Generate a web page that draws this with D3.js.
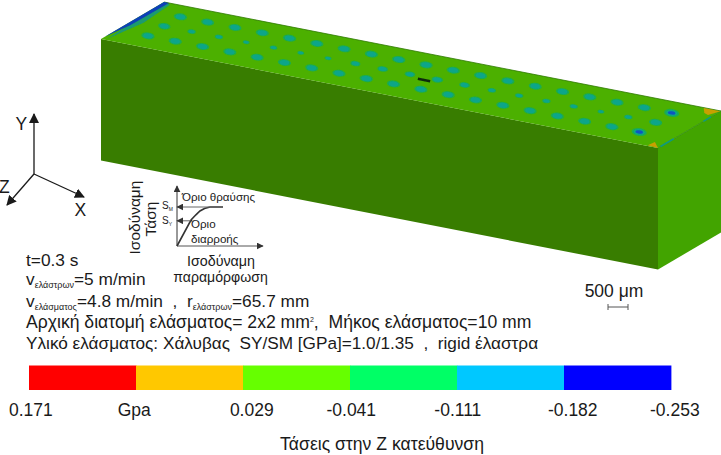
<!DOCTYPE html>
<html><head><meta charset="utf-8">
<script src="https://d3js.org/d3.v7.min.js"></script>
<style>html,body{margin:0;padding:0;background:#fff}svg{display:block;font-family:"Liberation Sans",Arial,sans-serif;fill:#1a1a1a}</style>
</head><body><svg id="c" width="721" height="455"></svg>
<script>
// Block dimensions (mm)
const blockLength = 10, blockWidth = 2, blockHeight = 2;
// Spot positions along the length (mm) and across the width (mm)
const spotLengths = [0.56,1.05,1.54,2.03,2.52,3.01,3.50,3.99,4.48,4.97,5.46,5.95,6.44,6.93,7.42,7.91,8.40,8.89,9.38];
const spotRows = [0.5,1.02,1.53];
// Peak Z stress in each spot (GPa), one list per row
const stressRowA = [-.075,-.075,-.07,-.07,-.07,-.07,-.07,-.075,-.08,-.075,-.075,-.075,-.07,-.07,-.07,-.07,-.07,-.075,-.15];
const stressRowB = [-.065,-.04,-.04,-.03,-.035,-.03,-.03,-.05,-.055,-.055,-.06,-.055,-.04,-.04,-.04,-.04,-.03,-.04,-.075];
const stressRowC = [-.075,-.07,-.07,-.07,-.075,-.075,-.07,-.075,-.08,-.08,-.075,-.075,-.07,-.07,-.07,-.075,-.07,-.075,-.15];
const stressRows = [stressRowA,stressRowB,stressRowC];
// Colour legend
const legendColors = ["#ff0000","#ffc800","#66ff00","#00ff66","#00c8ff","#0000ff"];
const legendTicks = ["0.171","Gpa","0.029","-0.041","-0.111","-0.182","-0.253"];
const legendTickPos = [0.003,0.164,0.347,0.502,0.668,0.847,1.006];
// Text lines
const infoLines = [
 [["t=0.3 s"]],
 [["v"],["ελάστρων","sub"],["=5 m/min"]],
 [["v"],["ελάσματος","sub"],["=4.8 m/min  ,  r"],["ελάστρων","sub"],["=65.7 mm"]],
 [["Αρχική διατομή ελάσματος= 2x2 mm"],["2","sup"],[",  Μήκος ελάσματος=10 mm"]],
 [["Υλικό ελάσματος: Χάλυβας  SY/SM [GPa]=1.0/1.35  ,  rigid έλαστρα"]]
];
const infoBaselines = [266,285,307,328,349];
const infoSizes = [17.3,17.3,17.3,17.6,17.2];

const svg = d3.select("#c");
const defs = svg.append("defs");
defs.append("filter").attr("id","soft").append("feGaussianBlur").attr("stdDeviation",0.7);
const mk = (id,c,s)=>defs.append("marker").attr("id",id).attr("viewBox","0 0 10 10").attr("refX",9).attr("refY",5)
  .attr("markerWidth",s).attr("markerHeight",s).attr("markerUnits","userSpaceOnUse").attr("orient","auto")
  .append("path").attr("d","M0,0L10,5L0,10Z").attr("fill",c);
mk("arrB","#1a1a1a",10); mk("arrL","#333",7);

// Oblique projection through scales
const lenX = d3.scaleLinear([0,blockLength],[0,557]), lenY = d3.scaleLinear([0,blockLength],[0,109]);
const widX = d3.scaleLinear([0,blockWidth],[0,63]), widY = d3.scaleLinear([0,blockWidth],[0,-37]);
const hgtY = d3.scaleLinear([0,blockHeight],[0,121.5]);
const proj = (l,w,h)=>[101+lenX(l)+widX(w), 39+lenY(l)+widY(w)+hgtY(h)];
const poly = pts => "M"+pts.map(p=>p.join(",")).join("L")+"Z";
const L=blockLength,W=blockWidth,H=blockHeight;
const face=(pts,c)=>svg.append("path").attr("d",poly(pts)).attr("fill",c);
face([proj(0,0,0),proj(L,0,0),proj(L,0,H),proj(0,0,H)],"#387d00");
face([proj(L,0,0),proj(L,W,0),proj(L,W,H),proj(L,0,H)],"#42a400");
face([proj(0,0,0),proj(0,W,0),proj(L,W,0),proj(L,0,0)],"#4cb000");
svg.append("path").attr("d",d3.line()([proj(0,W,0),proj(L,W,0)])).attr("stroke","#2f7a00").attr("stroke-width",.8).attr("fill","none");
svg.append("path").attr("d",d3.line()([proj(L,0,0),proj(L,W,0)])).attr("stroke","#2f8a10").attr("stroke-width",.8).attr("fill","none");

// Spots
const rxS = d3.scaleLinear([-.03,-.07,-.15],[3.5,6.6,7.6]);
const spots = svg.append("g").attr("filter","url(#soft)");
stressRows.forEach((row,ri)=>row.forEach((s,i)=>{
  const [x,y]=proj(spotLengths[i],spotRows[ri],0), r=rxS(s);
  const g=spots.append("g").attr("transform",`translate(${x},${y}) rotate(8)`);
  g.append("ellipse").attr("rx",r).attr("ry",r*.52).attr("fill","#1aac50");
  g.append("ellipse").attr("rx",r*.72).attr("ry",r*.38).attr("fill","#0ea58a");
  if(s<-.1) g.append("ellipse").attr("rx",r*.5).attr("ry",r*.22).attr("fill","#0a55c0");
}));

// Edge effects: compressive band on the start edge, tension corners at the far end
const band=svg.append("g").attr("filter","url(#soft)");
band.append("path").attr("d",poly([proj(.14,W*.97,0),proj(.2,W*.5,0),proj(.08,.08,0),proj(0,W,0)])).attr("fill","#1a9a70");
band.append("path").attr("d",poly([proj(0,.12,0),proj(0,W,0),proj(.09,W,0),proj(.08,W*.4,0)])).attr("fill","#0a3fb8");
band.append("path").attr("d",poly([proj(L,0,0),proj(L-.2,.03,0),proj(L-.18,.22,0)])).attr("fill","#c8a000");
band.append("path").attr("d",poly([proj(L-.3,W-.02,0),proj(L,W-.02,0),proj(L-.08,W-.27,0),proj(L-.18,W-.21,0)])).attr("fill","#c8a000");
band.append("path").attr("d",d3.line()([proj(L,.08,0),proj(L,.5,0)])).attr("stroke","#0f9a80").attr("stroke-width",1.6).attr("fill","none");
band.append("path").attr("d",d3.line()([proj(L,W*.72,0),proj(L,W*.84,0)])).attr("stroke","#0f9a80").attr("stroke-width",1.6).attr("fill","none");
band.append("path").attr("d",d3.line()([proj(5.18,.9,0),proj(5.4,.9,0)])).attr("stroke","#0c2a10").attr("stroke-width",2.6).attr("fill","none");

// Coordinate triad
const tri=svg.append("g").attr("stroke","#1a1a1a").attr("stroke-width",1.3).attr("fill","none");
[[34,114],[84,197],[7,205]].forEach(t=>tri.append("line").attr("x1",34).attr("y1",174).attr("x2",t[0]).attr("y2",t[1]).attr("marker-end","url(#arrB)"));
const label=(x,y,t,size,anchor="start",rot)=>{
  const e=svg.append("text").attr("font-size",size).attr("text-anchor",anchor).text(t);
  if(rot!=null) e.attr("transform",`translate(${x},${y}) rotate(${rot})`); else e.attr("x",x).attr("y",y);
  return e;};
label(15.5,130,"Y",17.5); label(74.5,216,"X",17.5); label(-1,193,"Z",17.5);

// Stress-strain sketch
const sx=d3.scaleLinear([0,1],[177,263]), sy=d3.scaleLinear([0,1],[246,186]);
const sk=svg.append("g").attr("fill","none");
sk.append("line").attr("x1",sx(0)).attr("y1",sy(0)).attr("x2",sx(0)).attr("y2",sy(1)).attr("stroke","#333").attr("stroke-width",1).attr("marker-end","url(#arrL)");
sk.append("line").attr("x1",sx(0)).attr("y1",sy(0)).attr("x2",sx(1)).attr("y2",sy(0)).attr("stroke","#555").attr("stroke-width",1).attr("marker-end","url(#arrL)");
const curveX=[0,.163,.22,.267,.32,.384,.535], curveY=[0,.433,.52,.583,.625,.65,.65];
sk.append("path").attr("d",d3.line().x(d=>sx(curveX[d])).y(d=>sy(curveY[d]))(d3.range(7))).attr("stroke","#333").attr("stroke-width",1.6);
sk.append("line").attr("x1",sx(.535)).attr("y1",sy(.65)).attr("x2",sx(0)).attr("y2",sy(.65)).attr("stroke","#666").attr("stroke-width",1).attr("marker-end","url(#arrL)");
sk.append("line").attr("x1",sx(.163)).attr("y1",sy(.42)).attr("x2",sx(0)).attr("y2",sy(.42)).attr("stroke","#666").attr("stroke-width",1).attr("marker-end","url(#arrL)");
label(182,201,"Όριο θραύσης",11.6);
label(191,228,"Όριο",11.6);
label(191,243,"διαρροής",11.6);
const sSym=(x,y,sub)=>{const e=svg.append("text").attr("x",x).attr("y",y).attr("font-size",10).text("S");
  e.append("tspan").attr("font-size",5).attr("dy",2).text(sub);};
sSym(162,209,"M"); sSym(162,224,"Y");
label(140,217.5,"Ισοδύναμη",15.5,"middle",-90);
label(156,219,"Τάση",15.5,"middle",-90);
label(221,266,"Ισοδύναμη",14.3,"middle");
label(220.5,282,"παραμόρφωση",14.1,"middle");

// Info block
infoLines.forEach((parts,i)=>{
  const t=svg.append("text").attr("x",26).attr("y",infoBaselines[i]).attr("font-size",infoSizes[i]).style("white-space","pre");
  parts.forEach((p,j)=>{
    const s=t.append("tspan").text(p[0]);
    if(p[1]==="sub") s.attr("font-size",9).attr("dy",3);
    else if(p[1]==="sup") s.attr("font-size",7).attr("dy",-6);
    else if(j>0) s.attr("dy",parts[j-1][1]==="sub"?-3:parts[j-1][1]==="sup"?6:0);
  });
});

// Scale bar
const um=d3.scaleLinear([0,500],[608,628]);
const sb=svg.append("g").attr("stroke","#555").attr("stroke-width",1);
sb.append("line").attr("x1",um(0)).attr("x2",um(500)).attr("y1",307).attr("y2",307);
[0,500].forEach(v=>sb.append("line").attr("x1",um(v)).attr("x2",um(v)).attr("y1",304).attr("y2",310));
label(614,297,"500 μm",17.5,"middle");

// Colour bar
const lx=d3.scaleBand(d3.range(legendColors.length),[29,671]).padding(0);
svg.append("g").selectAll("rect").data(legendColors).join("rect")
  .attr("x",(d,i)=>lx(i)).attr("y",365.5).attr("width",lx.bandwidth()+.4).attr("height",24.5).attr("fill",d=>d);
const lp=d3.scaleLinear([0,1],[29,671]);
svg.append("g").attr("font-size",17.5).attr("text-anchor","middle").selectAll("text").data(legendTicks).join("text")
  .attr("x",(d,i)=>lp(legendTickPos[i])).attr("y",416).text(d=>d);
label(382,450,"Τάσεις στην Z κατεύθυνση",17.6,"middle");
</script></body></html>
